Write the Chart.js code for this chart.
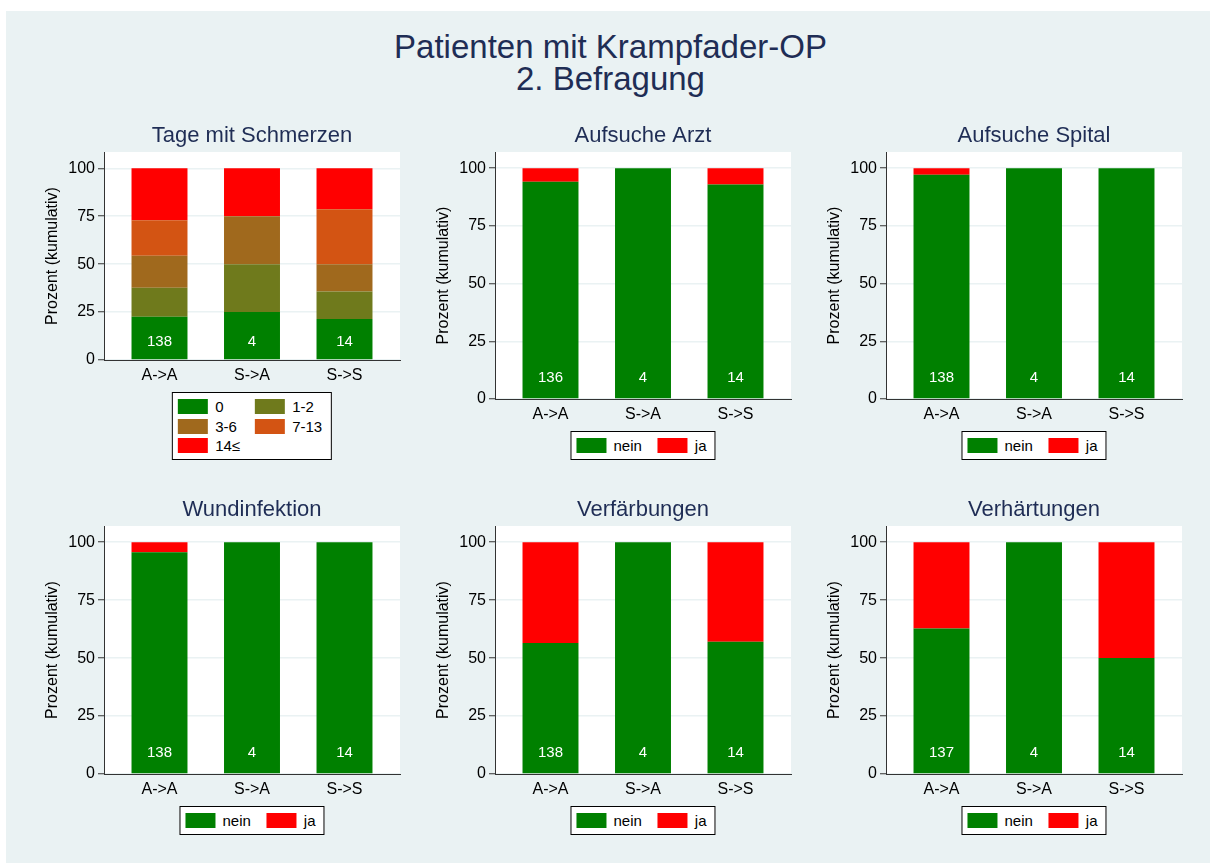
<!DOCTYPE html>
<html>
<head>
<meta charset="utf-8">
<script src="https://cdn.jsdelivr.net/npm/chart.js@4.4.1/dist/chart.umd.min.js"></script>
<style>
    body { margin: 0; background: #fff; font-family: "Liberation Sans", Arial, sans-serif; }
    #bg { position: absolute; left: 6px; top: 11px; width: 1204px; height: 852px; background: #eaf2f3; }
    #main-title { position: absolute; left: 0; width: 1221px; top: 31px; text-align: center;
                  font-size: 33px; line-height: 32px; color: #1f2d55; }
    canvas { position: absolute; }
    .legend { position: absolute; background: #fff; border: 1px solid #000; padding: 6px 8px 6px 5px;
              display: grid; grid-template-columns: auto auto; column-gap: 16px; row-gap: 4.7px;
              transform: translateX(-50%); font-size: 15px; color: #000; }
    .legend.wide { grid-template-columns: 77px auto; column-gap: 0; padding-right: 9px; padding-left: 5.3px; }
    .item { display: flex; align-items: center; height: 15px; white-space: nowrap; }
    .swatch { width: 30px; height: 15px; margin-right: 7px; }
</style>
</head>
<body>
<div id="bg"></div>
<div id="main-title">Patienten mit Krampfader-OP<br>2. Befragung</div>

<script>
// categories and tick labels
const categories = ['A->A', 'S->A', 'S->S'];
const yTicks = [0, 25, 50, 75, 100];
const painLabels = ['0', '1-2', '3-6', '7-13', '14≤'];
const yesNoLabels = ['nein', 'ja'];

// Tage mit Schmerzen (Prozent je Gruppe)
const pain0 = [22.5, 25, 21.4];
const pain1to2 = [15.2, 25, 14.3];
const pain3to6 = [16.7, 25, 14.3];
const pain7to13 = [18.5, 0, 28.6];
const pain14plus = [27.1, 25, 21.4];
const painN = [138, 4, 14];

// Aufsuche Arzt
const arztNein = [94.1, 100, 92.9];
const arztJa = [5.9, 0, 7.1];
const arztN = [136, 4, 14];

// Aufsuche Spital
const spitalNein = [97.1, 100, 100];
const spitalJa = [2.9, 0, 0];
const spitalN = [138, 4, 14];

// Wundinfektion
const wundNein = [95.7, 100, 100];
const wundJa = [4.3, 0, 0];
const wundN = [138, 4, 14];

// Verfärbungen
const verfNein = [56.5, 100, 57.1];
const verfJa = [43.5, 0, 42.9];
const verfN = [138, 4, 14];

// Verhärtungen
const verhNein = [62.8, 100, 50];
const verhJa = [37.2, 0, 50];
const verhN = [137, 4, 14];

const painColors = ['#008000', '#6f7a1c', '#a0691d', '#d35413', '#ff0000'];
const yesNoColors = ['#008000', '#ff0000'];
const FONT = '"Liberation Sans", Arial, sans-serif';
const TITLE_COLOR = '#1f2d55';

// white plot region behind the bars
const plotBackground = {
    id: 'plotBackground',
    beforeDraw(chart) {
        const {ctx, chartArea: a} = chart;
        ctx.save();
        ctx.fillStyle = '#ffffff';
        ctx.fillRect(a.left, a.top, a.right - a.left, a.bottom - a.top);
        ctx.restore();
    }
};

// sample size written inside the bottom segment
const countLabels = {
    id: 'countLabels',
    afterDatasetsDraw(chart, args, opts) {
        const {ctx, scales: {x, y}} = chart;
        ctx.save();
        ctx.fillStyle = '#ffffff';
        ctx.font = '15px ' + FONT;
        ctx.textAlign = 'center';
        ctx.textBaseline = 'middle';
        (opts.counts || []).forEach((n, i) => {
            ctx.fillText(String(n), x.getPixelForValue(i), y.getPixelForValue(opts.at));
        });
        ctx.restore();
    }
};

function makePanel(cfg) {
    const {title, labels, series, colors, counts, plotLeft, plotTop, plotBottom, yMax} = cfg;
    const canvas = document.createElement('canvas');
    const w = 370;
    const h = (plotBottom - plotTop) + 42 + 28;
    canvas.width = w;
    canvas.height = h;
    canvas.style.left = (plotLeft - 65) + 'px';
    canvas.style.top = (plotTop - 42) + 'px';
    canvas.style.width = w + 'px';
    canvas.style.height = h + 'px';
    document.body.appendChild(canvas);

    const datasets = series.map((vals, k) => ({
        label: labels[k],
        data: vals.map((v, i) => ({x: i, y: v})),
        backgroundColor: colors[k],
        borderWidth: 0,
        categoryPercentage: 1,
        barPercentage: 0.605
    }));

    new Chart(canvas.getContext('2d'), {
        type: 'bar',
        data: {datasets},
        options: {
            responsive: false,
            animation: false,
            layout: {padding: {left: 0, right: 9, top: 0, bottom: 0}},
            scales: {
                x: {
                    type: 'linear',
                    stacked: true,
                    offset: false,
                    min: -0.6,
                    max: 2.6,
                    z: 1,
                    afterBuildTicks: axis => { axis.ticks = categories.map((_, i) => ({value: i})); },
                    afterFit: scale => { scale.height = 28; },
                    grid: {display: false, drawTicks: false, offset: false},
                    border: {display: true, color: '#333333', width: 1},
                    ticks: {
                        callback: v => categories[v],
                        color: '#000',
                        font: {family: FONT, size: 16},
                        padding: 6,
                        maxRotation: 0
                    }
                },
                y: {
                    stacked: true,
                    min: 0,
                    max: yMax,
                    afterBuildTicks: axis => { axis.ticks = yTicks.map(v => ({value: v})); },
                    afterFit: scale => { scale.width = 65; },
                    grid: {color: '#eaf2f3', lineWidth: 1.5, tickColor: '#333333', tickLength: 6, tickWidth: 1},
                    border: {display: true, color: '#333333', width: 1},
                    ticks: {color: '#000', font: {family: FONT, size: 16}, padding: 3},
                    title: {
                        display: true,
                        text: 'Prozent (kumulativ)',
                        color: '#000',
                        font: {family: FONT, size: 16},
                        padding: {top: 3.7, bottom: 0}
                    }
                }
            },
            plugins: {
                legend: {display: false},
                tooltip: {enabled: false},
                title: {
                    display: true,
                    text: title,
                    fullSize: false,
                    color: TITLE_COLOR,
                    font: {family: FONT, size: 22, weight: 'normal', lineHeight: 1.2},
                    padding: {top: 13, bottom: 2.6}
                },
                countLabels: {counts, at: 9.3}
            }
        },
        plugins: [plotBackground, countLabels]
    });

    // legend box below the plot
    const legend = document.createElement('div');
    legend.className = 'legend' + (labels.length > 2 ? ' wide' : '');
    legend.style.left = (plotLeft + 148) + 'px';
    legend.style.top = (plotBottom + 32) + 'px';
    labels.forEach((lab, k) => {
        const item = document.createElement('div');
        item.className = 'item';
        const sw = document.createElement('span');
        sw.className = 'swatch';
        sw.style.background = colors[k];
        item.appendChild(sw);
        item.appendChild(document.createTextNode(lab));
        legend.appendChild(item);
    });
    document.body.appendChild(legend);
}

const cols = [104, 495, 886];

makePanel({title: 'Tage mit Schmerzen', labels: painLabels,
    series: [pain0, pain1to2, pain3to6, pain7to13, pain14plus], colors: painColors, counts: painN,
    plotLeft: cols[0], plotTop: 152, plotBottom: 360, yMax: 108.5});
makePanel({title: 'Aufsuche Arzt', labels: yesNoLabels, series: [arztNein, arztJa], colors: yesNoColors,
    counts: arztN, plotLeft: cols[1], plotTop: 152, plotBottom: 399, yMax: 107});
makePanel({title: 'Aufsuche Spital', labels: yesNoLabels, series: [spitalNein, spitalJa], colors: yesNoColors,
    counts: spitalN, plotLeft: cols[2], plotTop: 152, plotBottom: 399, yMax: 107});
makePanel({title: 'Wundinfektion', labels: yesNoLabels, series: [wundNein, wundJa], colors: yesNoColors,
    counts: wundN, plotLeft: cols[0], plotTop: 526, plotBottom: 774, yMax: 107});
makePanel({title: 'Verfärbungen', labels: yesNoLabels, series: [verfNein, verfJa], colors: yesNoColors,
    counts: verfN, plotLeft: cols[1], plotTop: 526, plotBottom: 774, yMax: 107});
makePanel({title: 'Verhärtungen', labels: yesNoLabels, series: [verhNein, verhJa], colors: yesNoColors,
    counts: verhN, plotLeft: cols[2], plotTop: 526, plotBottom: 774, yMax: 107});
</script>
</body>
</html>
